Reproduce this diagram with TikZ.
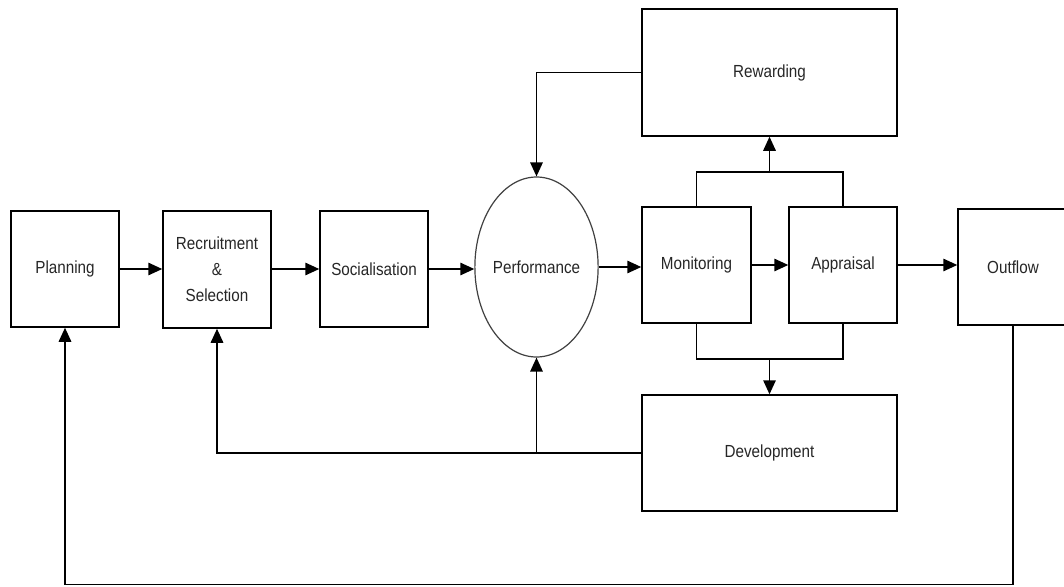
\documentclass[tikz,border=0pt]{standalone}
\usepackage{fontspec}
\setmainfont{Liberation Sans}[FakeStretch=0.87]
\usetikzlibrary{shapes.geometric,arrows.meta}
\begin{document}
\begin{tikzpicture}[x=1pt,y=-1pt,line width=1.5pt,
  box/.style={draw,line width=1.5pt,inner sep=0pt,align=center,
    font=\fontsize{17.5}{26}\selectfont,text=black!85},
  arr/.style={-{Triangle[length=14pt,width=12.5pt]}}]
\useasboundingbox (0,0) rectangle (1064,586);
\node[box,minimum width=108pt,minimum height=116pt] (plan) at (65,269) {Planning};
\node[box,minimum width=108pt,minimum height=117pt] (rec) at (217,269.5) {Recruitment\\\&\\Selection};
\node[box,minimum width=108pt,minimum height=116pt] (soc) at (374,269) {Socialisation};
\node[box,ellipse,draw=black!75,line width=1.2pt,minimum width=123pt,minimum height=180pt] (perf) at (536.5,267) {Performance};
\node[box,minimum width=109pt,minimum height=116pt] (mon) at (696.5,265) {Monitoring};
\node[box,minimum width=108pt,minimum height=116pt] (app) at (843,265) {Appraisal};
\node[box,minimum width=110pt,minimum height=116pt] (out) at (1013,267) {Outflow};
\node[box,minimum width=255pt,minimum height=127pt] (rew) at (769.5,72.5) {Rewarding};
\node[box,minimum width=255pt,minimum height=116pt] (dev) at (769.5,453) {Development};
\coordinate (tj) at (769.5,172);
\coordinate (bj) at (769.5,359);
\coordinate (bot) at (65,584.5);
\draw[arr] (plan.east) -- (plan.east -| rec.west);
\draw[arr] (rec.east |- plan.east) -- (plan.east -| soc.west);
\draw[arr] (soc.east) -- (soc.east -| perf.west);
\draw[arr] (perf.east) -- (perf.east -| mon.west);
\draw[arr] (mon.east) -- (app.west);
\draw[arr] (app.east) -- (app.east -| out.west);
\draw[arr] (rew.west) -| (perf.north);
\draw (mon.north) |- (tj) -| (app.north);
\draw[arr] (tj) -- (rew.south);
\draw (mon.south) |- (bj) -| (app.south);
\draw[arr] (bj) -- (dev.north);
\draw[arr] (dev.west) -| (rec.south);
\draw[arr] (perf.south |- dev.west) -- (perf.south);
\draw[arr] (out.south) -- (out.south |- bot) -| (plan.south);
\end{tikzpicture}
\end{document}
